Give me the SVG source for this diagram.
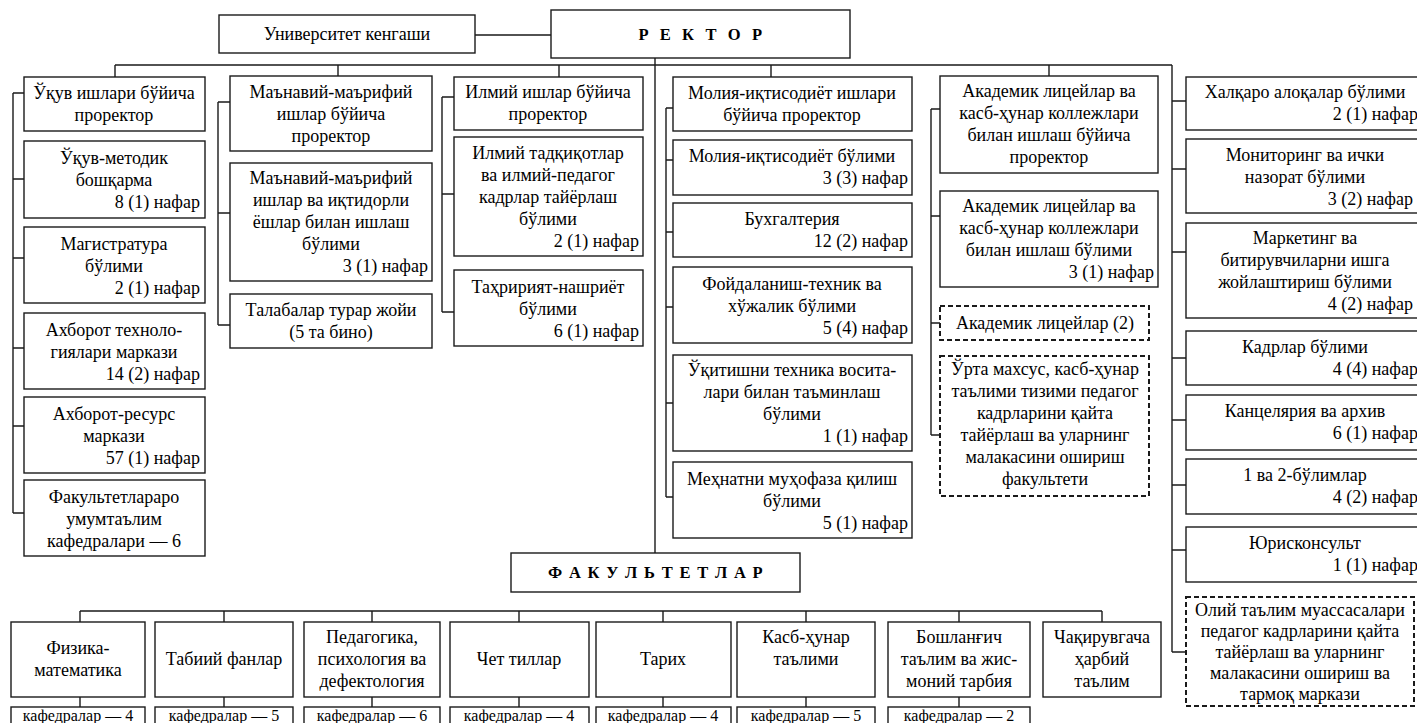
<svg xmlns="http://www.w3.org/2000/svg" width="1417" height="723" viewBox="0 0 1417 723" font-family="'Liberation Serif', 'Times New Roman', serif">
<style>
.b{fill:#fff;stroke:#1a1a1a;stroke-width:1.4}
.d{fill:#fff;stroke:#1a1a1a;stroke-width:2;stroke-dasharray:5 3}
.l{fill:none;stroke:#1a1a1a;stroke-width:1.4}
text{font-family:'Liberation Serif','Times New Roman',serif;font-size:18px;fill:#000}
.c{text-anchor:middle}
.r{text-anchor:end}
.k{font-size:16px}
.h{font-weight:bold;font-size:16.5px}
</style>
<rect width="1417" height="723" fill="#fff"/>
<g id="connectors">
<path class="l" d="M475,35H551M655,58V553M115,65H1172M115,65V77M338,65V76M559,65V77M771,65V77M1049,65V76"/>
<path class="l" d="M13,93V513M13,93H24M13,179H24M13,258H24M13,348H24M13,426H24M13,513H24"/>
<path class="l" d="M218,102V325M218,102H230M218,213H230M218,325H230"/>
<path class="l" d="M442,97V312M442,97H454M442,194H454M442,312H454"/>
<path class="l" d="M666,108V497M666,108H673M666,160H673M666,232H673M666,307H673M666,403H673M666,497H673"/>
<path class="l" d="M931,109V435M931,109H940M931,216H940M931,323H940M931,435H940"/>
<path class="l" d="M1172,65V652M1172,101H1186M1172,169H1186M1172,252H1186M1172,358H1186M1172,420H1186M1172,485H1186M1172,550H1186M1172,652H1186"/>
<path class="l" d="M80,611H1102M80,611V622M224,611V622M372,611V622M519,611V622M663,611V622M806,611V622M959,611V622M1102,611V622"/>
<path class="l" d="M80,697V707M224,697V707M372,697V707M519,697V707M663,697V707M806,697V707M959,697V707"/>
</g>
<g id="council"><rect class="b" x="219" y="15" width="256" height="38"/><text class="c" x="347" y="40">Университет кенгаши</text></g>
<g id="rector"><rect class="b" x="551" y="10" width="299" height="48"/><text class="c h" x="702" y="40" letter-spacing="3.6">Р Е К Т О Р</text></g>

<g id="c1n1"><rect class="b" x="24" y="77" width="181" height="54"/><text class="c" x="114"><tspan x="114" y="99">Ўқув ишлари бўйича</tspan><tspan x="114" y="121">проректор</tspan></text></g>
<g id="c1n2"><rect class="b" x="24" y="141" width="181" height="77"/><text class="c" x="114"><tspan x="114" y="164">Ўқув-методик</tspan><tspan x="114" y="186">бошқарма</tspan></text><text class="r" x="200" y="208">8 (1) нафар</text></g>
<g id="c1n3"><rect class="b" x="24" y="227" width="181" height="76"/><text class="c" x="114"><tspan x="114" y="250">Магистратура</tspan><tspan x="114" y="272">бўлими</tspan></text><text class="r" x="200" y="294">2 (1) нафар</text></g>
<g id="c1n4"><rect class="b" x="24" y="313" width="181" height="76"/><text class="c" x="114"><tspan x="114" y="336">Ахборот техноло-</tspan><tspan x="114" y="358">гиялари маркази</tspan></text><text class="r" x="200" y="380">14 (2) нафар</text></g>
<g id="c1n5"><rect class="b" x="24" y="397" width="181" height="76"/><text class="c" x="114"><tspan x="114" y="420">Ахборот-ресурс</tspan><tspan x="114" y="442">маркази</tspan></text><text class="r" x="200" y="464">57 (1) нафар</text></g>
<g id="c1n6"><rect class="b" x="24" y="480" width="181" height="76"/><text class="c" x="114"><tspan x="114" y="503">Факультетлараро</tspan><tspan x="114" y="525">умумтаълим</tspan><tspan x="114" y="547">кафедралари — 6</tspan></text></g>

<g id="c2n1"><rect class="b" x="230" y="76" width="202" height="75"/><text class="c" x="331"><tspan x="331" y="98">Маънавий-маърифий</tspan><tspan x="331" y="120">ишлар бўйича</tspan><tspan x="331" y="142">проректор</tspan></text></g>
<g id="c2n2"><rect class="b" x="230" y="163" width="202" height="118"/><text class="c" x="331"><tspan x="331" y="184">Маънавий-маърифий</tspan><tspan x="331" y="206">ишлар ва иқтидорли</tspan><tspan x="331" y="228">ёшлар билан ишлаш</tspan><tspan x="331" y="250">бўлими</tspan></text><text class="r" x="428" y="272">3 (1) нафар</text></g>
<g id="c2n3"><rect class="b" x="230" y="294" width="202" height="54"/><text class="c" x="331"><tspan x="331" y="316">Талабалар турар жойи</tspan><tspan x="331" y="338">(5 та бино)</tspan></text></g>

<g id="c3n1"><rect class="b" x="454" y="77" width="189" height="53"/><text class="c" x="548"><tspan x="548" y="98">Илмий ишлар бўйича</tspan><tspan x="548" y="120">проректор</tspan></text></g>
<g id="c3n2"><rect class="b" x="454" y="137" width="189" height="119"/><text class="c" x="548"><tspan x="548" y="159">Илмий тадқиқотлар</tspan><tspan x="548" y="181">ва илмий-педагог</tspan><tspan x="548" y="203">кадрлар тайёрлаш</tspan><tspan x="548" y="225">бўлими</tspan></text><text class="r" x="639" y="247">2 (1) нафар</text></g>
<g id="c3n3"><rect class="b" x="454" y="270" width="189" height="76"/><text class="c" x="548"><tspan x="548" y="293">Таҳририят-нашриёт</tspan><tspan x="548" y="315">бўлими</tspan></text><text class="r" x="639" y="337">6 (1) нафар</text></g>

<g id="c4n1"><rect class="b" x="673" y="77" width="239" height="54"/><text class="c" x="792"><tspan x="792" y="99">Молия-иқтисодиёт ишлари</tspan><tspan x="792" y="121">бўйича проректор</tspan></text></g>
<g id="c4n2"><rect class="b" x="673" y="140" width="239" height="55"/><text class="c" x="792" y="162">Молия-иқтисодиёт бўлими</text><text class="r" x="908" y="184">3 (3) нафар</text></g>
<g id="c4n3"><rect class="b" x="673" y="203" width="239" height="54"/><text class="c" x="792" y="225">Бухгалтерия</text><text class="r" x="908" y="247">12 (2) нафар</text></g>
<g id="c4n4"><rect class="b" x="673" y="267" width="239" height="76"/><text class="c" x="792"><tspan x="792" y="290">Фойдаланиш-техник ва</tspan><tspan x="792" y="312">хўжалик бўлими</tspan></text><text class="r" x="908" y="334">5 (4) нафар</text></g>
<g id="c4n5"><rect class="b" x="673" y="355" width="239" height="96"/><text class="c" x="792"><tspan x="792" y="376">Ўқитишни техника восита-</tspan><tspan x="792" y="398">лари билан таъминлаш</tspan><tspan x="792" y="420">бўлими</tspan></text><text class="r" x="908" y="442">1 (1) нафар</text></g>
<g id="c4n6"><rect class="b" x="673" y="462" width="239" height="76"/><text class="c" x="792"><tspan x="792" y="485">Меҳнатни муҳофаза қилиш</tspan><tspan x="792" y="507">бўлими</tspan></text><text class="r" x="908" y="529">5 (1) нафар</text></g>

<g id="c5n1"><rect class="b" x="940" y="76" width="218" height="97"/><text class="c" x="1049"><tspan x="1049" y="97">Академик лицейлар ва</tspan><tspan x="1049" y="119">касб-ҳунар коллежлари</tspan><tspan x="1049" y="141">билан ишлаш бўйича</tspan><tspan x="1049" y="163">проректор</tspan></text></g>
<g id="c5n2"><rect class="b" x="940" y="191" width="218" height="96"/><text class="c" x="1049"><tspan x="1049" y="212">Академик лицейлар ва</tspan><tspan x="1049" y="234">касб-ҳунар коллежлари</tspan><tspan x="1049" y="256">билан ишлаш бўлими</tspan></text><text class="r" x="1154" y="278">3 (1) нафар</text></g>
<g id="c5n3"><rect class="d" x="940" y="306" width="209" height="34"/><text class="c" x="1045" y="329">Академик лицейлар (2)</text></g>
<g id="c5n4"><rect class="d" x="940" y="356" width="209" height="140"/><text class="c" x="1045"><tspan x="1045" y="375">Ўрта махсус, касб-ҳунар</tspan><tspan x="1045" y="397">таълими тизими педагог</tspan><tspan x="1045" y="419">кадрларини қайта</tspan><tspan x="1045" y="441">тайёрлаш ва уларнинг</tspan><tspan x="1045" y="463">малакасини ошириш</tspan><tspan x="1045" y="485">факультети</tspan></text></g>

<g id="c6n1"><rect class="b" x="1186" y="77" width="240" height="53"/><text class="c" x="1305" y="98">Халқаро алоқалар бўлими</text><text class="r" x="1418" y="120">2 (1) нафар</text></g>
<g id="c6n2"><rect class="b" x="1186" y="139" width="240" height="74"/><text class="c" x="1305"><tspan x="1305" y="161">Мониторинг ва ички</tspan><tspan x="1305" y="183">назорат бўлими</tspan></text><text class="r" x="1413" y="205">3 (2) нафар</text></g>
<g id="c6n3"><rect class="b" x="1186" y="223" width="240" height="95"/><text class="c" x="1305"><tspan x="1305" y="244">Маркетинг ва</tspan><tspan x="1305" y="266">битирувчиларни ишга</tspan><tspan x="1305" y="288">жойлаштириш бўлими</tspan></text><text class="r" x="1413" y="310">4 (2) нафар</text></g>
<g id="c6n4"><rect class="b" x="1186" y="331" width="240" height="54"/><text class="c" x="1305" y="353">Кадрлар бўлими</text><text class="r" x="1418" y="375">4 (4) нафар</text></g>
<g id="c6n5"><rect class="b" x="1186" y="395" width="240" height="55"/><text class="c" x="1305" y="417">Канцелярия ва архив</text><text class="r" x="1418" y="439">6 (1) нафар</text></g>
<g id="c6n6"><rect class="b" x="1186" y="459" width="240" height="55"/><text class="c" x="1305" y="481">1 ва 2-бўлимлар</text><text class="r" x="1418" y="503">4 (2) нафар</text></g>
<g id="c6n7"><rect class="b" x="1186" y="527" width="240" height="55"/><text class="c" x="1305" y="549">Юрисконсульт</text><text class="r" x="1418" y="571">1 (1) нафар</text></g>
<g id="c6n8"><rect class="d" x="1186" y="597" width="228" height="109"/><text class="c" x="1300"><tspan x="1300" y="616">Олий таълим муассасалари</tspan><tspan x="1300" y="637">педагог кадрларини қайта</tspan><tspan x="1300" y="658">тайёрлаш ва уларнинг</tspan><tspan x="1300" y="679">малакасини ошириш ва</tspan><tspan x="1300" y="700">тармоқ маркази</tspan></text></g>

<g id="faculties"><rect class="b" x="511" y="553" width="289" height="39"/><text class="c h" x="656" y="578" letter-spacing="1.3">Ф А К У Л Ь Т Е Т Л А Р</text></g>

<g id="f1"><rect class="b" x="11" y="622" width="134" height="75"/><text class="c" x="78"><tspan x="78" y="654">Физика-</tspan><tspan x="78" y="676">математика</tspan></text><rect class="b" x="11" y="707" width="134" height="24"/><text class="c k" x="78" y="721">кафедралар — 4</text></g>
<g id="f2"><rect class="b" x="155" y="622" width="138" height="75"/><text class="c" x="224" y="665">Табиий фанлар</text><rect class="b" x="155" y="707" width="138" height="24"/><text class="c k" x="224" y="721">кафедралар — 5</text></g>
<g id="f3"><rect class="b" x="304" y="622" width="136" height="75"/><text class="c" x="372"><tspan x="372" y="643">Педагогика,</tspan><tspan x="372" y="665">психология ва</tspan><tspan x="372" y="687">дефектология</tspan></text><rect class="b" x="304" y="707" width="136" height="24"/><text class="c k" x="372" y="721">кафедралар — 6</text></g>
<g id="f4"><rect class="b" x="450" y="622" width="139" height="75"/><text class="c" x="519" y="665">Чет тиллар</text><rect class="b" x="450" y="707" width="139" height="24"/><text class="c k" x="519" y="721">кафедралар — 4</text></g>
<g id="f5"><rect class="b" x="596" y="622" width="135" height="75"/><text class="c" x="663" y="665">Тарих</text><rect class="b" x="596" y="707" width="135" height="24"/><text class="c k" x="663" y="721">кафедралар — 4</text></g>
<g id="f6"><rect class="b" x="737" y="622" width="138" height="75"/><text class="c" x="806"><tspan x="806" y="643">Касб-ҳунар</tspan><tspan x="806" y="665">таълими</tspan></text><rect class="b" x="737" y="707" width="138" height="24"/><text class="c k" x="806" y="721">кафедралар — 5</text></g>
<g id="f7"><rect class="b" x="888" y="622" width="142" height="75"/><text class="c" x="959"><tspan x="959" y="643">Бошланғич</tspan><tspan x="959" y="665">таълим ва жис-</tspan><tspan x="959" y="687">моний тарбия</tspan></text><rect class="b" x="888" y="707" width="142" height="24"/><text class="c k" x="959" y="721">кафедралар — 2</text></g>
<g id="f8"><rect class="b" x="1043" y="622" width="118" height="75"/><text class="c" x="1102"><tspan x="1102" y="643">Чақирувгача</tspan><tspan x="1102" y="665">ҳарбий</tspan><tspan x="1102" y="687">таълим</tspan></text></g>
</svg>
